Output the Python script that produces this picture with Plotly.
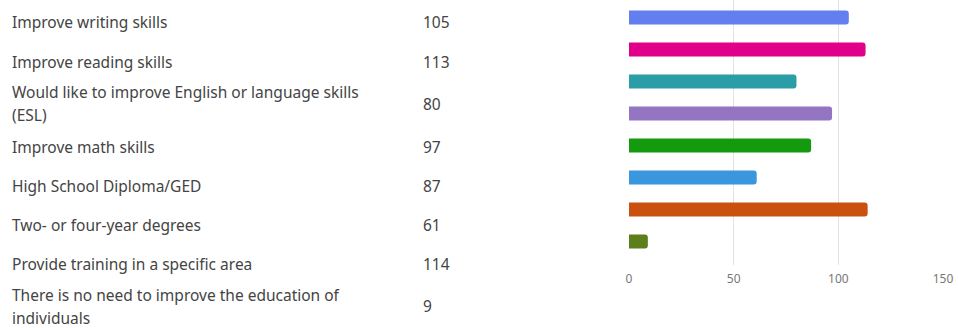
import plotly.graph_objects as go

categories = [
    "Improve writing skills",
    "Improve reading skills",
    "Would like to improve English or language skills\n(ESL)",
    "Improve math skills",
    "High School Diploma/GED",
    "Two- or four-year degrees",
    "Provide training in a specific area",
    "There is no need to improve the education of\nindividuals",
]
counts = [105, 113, 80, 97, 87, 61, 114, 9]
tick_values = [0, 50, 100, 150]
tick_labels = ["0", "50", "100", "150"]

colors = ["#637EEF", "#E0008A", "#2A9DA6", "#9475C2", "#139A0E",
          "#3A96DD", "#CA5010", "#5C7E1B"]

W, H = 958, 328
# layout positions (pixels)
plot_left, plot_right = 629, 943
plot_top, plot_bottom = 0, 265
row_centers = [22, 62, 104, 147, 186, 225, 264, 306]
line_pitch = 23
label_x = 10
value_x = 421

def px(x):
    return x / W

def py(y):
    return 1 - y / H

fig = go.Figure(go.Bar(
    y=categories,
    x=counts,
    orientation="h",
    marker=dict(color=colors, line=dict(width=0)),
    hoverinfo="x+y",
))

font_family = "Noto Sans, Open Sans, sans-serif"
text_color = "#444444"
annotations = []
for cat, val, yc in zip(categories, counts, row_centers):
    lines = cat.split("\n")
    n = len(lines)
    for i, ln in enumerate(lines):
        yline = yc + (i - (n - 1) / 2) * line_pitch
        annotations.append(dict(
            text=ln, x=px(label_x), y=py(yline), xref="paper", yref="paper",
            xanchor="left", yanchor="middle", showarrow=False,
            font=dict(family=font_family, size=15.5, color=text_color),
        ))
    annotations.append(dict(
        text=str(val), x=px(value_x), y=py(yc), xref="paper", yref="paper",
        xanchor="left", yanchor="middle", showarrow=False,
        font=dict(family=font_family, size=15.5, color=text_color),
    ))

n_cat = len(categories)
pitch = 32.0
first_center = 17.5
y_top = -(first_center - plot_top) / pitch
y_bot = (n_cat - 1) + (plot_bottom - (first_center + (n_cat - 1) * pitch)) / pitch

fig.update_layout(
    width=W, height=H,
    margin=dict(l=0, r=0, t=0, b=0),
    paper_bgcolor="white", plot_bgcolor="white",
    showlegend=False,
    bargap=0.56,
    barcornerradius=3,
    annotations=annotations,
    xaxis=dict(
        domain=[px(plot_left), px(plot_right)],
        range=[0, 150],
        tickmode="array", tickvals=tick_values, ticktext=tick_labels,
        showgrid=True, gridcolor="#e2e2e2", gridwidth=1,
        zeroline=False, showline=False, ticks="",
        ticklabelstandoff=5,
        tickfont=dict(family=font_family, size=12, color="#777777"),
        automargin=False, fixedrange=True,
    ),
    yaxis=dict(
        domain=[py(plot_bottom), py(plot_top)],
        range=[y_bot, y_top],
        showticklabels=False, showgrid=False, zeroline=False,
        ticks="", automargin=False, fixedrange=True,
    ),
)

fig.write_html(
    "out.html",
    config={"displayModeBar": False},
    post_script="document.body.style.margin='0';document.body.style.padding='0';",
)
